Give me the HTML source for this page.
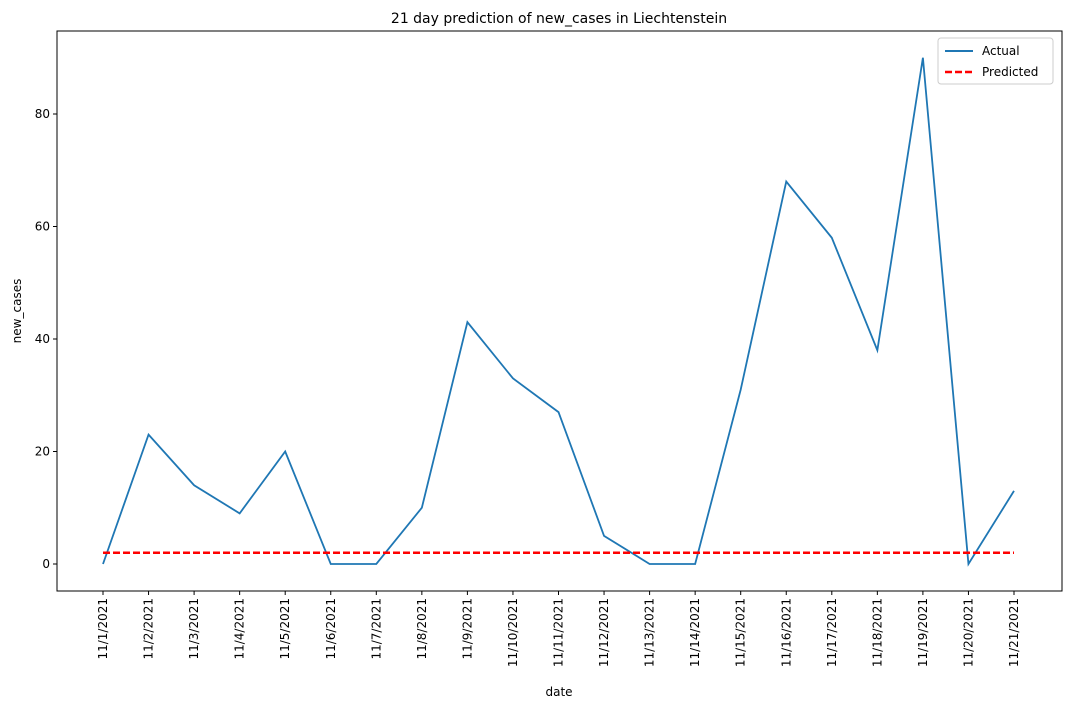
<!DOCTYPE html>
<html><head><meta charset="utf-8"><style>
body{margin:0;background:#fff;font-family:"DejaVu Sans","Liberation Sans",sans-serif;}
svg text{font-family:"DejaVu Sans","Liberation Sans",sans-serif;fill:#000;}
</style></head><body>
<svg id="chart" width="1070" height="709" xmlns="http://www.w3.org/2000/svg">
<rect width="1070" height="709" fill="#fff"/>
<text x="559" y="23" font-size="14" text-anchor="middle">21 day prediction of new_cases in Liechtenstein</text>
<g id="plot"></g>
<text x="559" y="696" font-size="12" text-anchor="middle">date</text>
<text transform="translate(21,311) rotate(-90)" font-size="12" text-anchor="middle">new_cases</text>
<g>
<rect x="938" y="38" width="115" height="46" fill="#fff" stroke="#ccc" rx="3"/>
<line x1="945" y1="51" x2="973" y2="51" stroke="#1f77b4" stroke-width="2"/>
<text x="982" y="55" font-size="12">Actual</text>
<line x1="945" y1="72" x2="973" y2="72" stroke="red" stroke-width="2.5" stroke-dasharray="7,3"/>
<text x="982" y="76" font-size="12">Predicted</text>
</g>
</svg>
<script>
const categories=["11/1/2021","11/2/2021","11/3/2021","11/4/2021","11/5/2021","11/6/2021","11/7/2021","11/8/2021","11/9/2021","11/10/2021","11/11/2021","11/12/2021","11/13/2021","11/14/2021","11/15/2021","11/16/2021","11/17/2021","11/18/2021","11/19/2021","11/20/2021","11/21/2021"];
const actual=[0,23,14,9,20,0,0,10,43,33,27,5,0,0,31,68,58,38,90,0,13];
const predicted=[2,2,2,2,2,2,2,2,2,2,2,2,2,2,2,2,2,2,2,2,2];
const yTicks=[0,20,40,60,80];
const L=57,R=1062,T=31,B=591;
const x=i=>103+i*(1014-103)/(categories.length-1);
const y=v=>564-v*(564-114)/80;
const ns="http://www.w3.org/2000/svg";
const g=document.getElementById('plot');
function mk(t,a){const e=document.createElementNS(ns,t);for(const k in a)e.setAttribute(k,a[k]);g.appendChild(e);return e;}
const frame=mk('rect',{x:L,y:T,width:R-L,height:B-T,fill:'none',stroke:'#000','stroke-width':1});


yTicks.forEach(v=>{
 const t=mk('line',{x1:L-4,x2:L,y1:y(v),y2:y(v),stroke:'#000'});
 
 
 const tx=mk('text',{x:L-7,y:y(v)+4,'font-size':12,'text-anchor':'end'});
 tx.textContent=v;
 
 
});
categories.forEach((c,i)=>{
 const t=mk('line',{x1:x(i),x2:x(i),y1:B,y2:B+4,stroke:'#000'});
 
 
 const tx=mk('text',{transform:`translate(${x(i)+4},${B+7}) rotate(-90)`,'font-size':12,'text-anchor':'end'});
 tx.textContent=c;
 
 
});
const a=mk('polyline',{points:actual.map((v,i)=>x(i)+','+y(v)).join(' '),fill:'none',stroke:'#1f77b4','stroke-width':1.8});


const p=mk('polyline',{points:predicted.map((v,i)=>x(i)+','+y(v)).join(' '),fill:'none',stroke:'red','stroke-width':2.5,'stroke-dasharray':'7,3'});


</script>
</body></html>
